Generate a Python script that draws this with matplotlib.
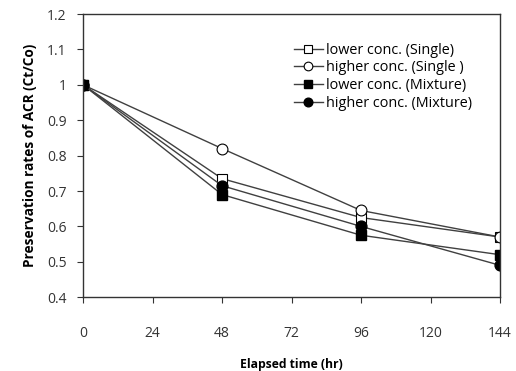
import matplotlib
matplotlib.use("Agg")
import matplotlib.pyplot as plt

plt.rcParams['font.family'] = ['Open Sans', 'DejaVu Sans']

hours = [0, 48, 96, 144]
lowerSingle = [1.0, 0.735, 0.625, 0.57]
higherSingle = [1.0, 0.82, 0.645, 0.57]
lowerMixture = [1.0, 0.69, 0.575, 0.52]
higherMixture = [1.0, 0.715, 0.60, 0.49]

xTicks = [0, 24, 48, 72, 96, 120, 144]
yTicks = [0.4, 0.5, 0.6, 0.7, 0.8, 0.9, 1.0, 1.1, 1.2]
yTickLabels = ["0.4", "0.5", "0.6", "0.7", "0.8", "0.9", "1", "1.1", "1.2"]

fig = plt.figure(figsize=(5.16, 3.71), dpi=100)
ax = fig.add_axes([0.161, 0.199, 0.808, 0.763])

lineColor = "#404040"
ax.plot(hours, lowerSingle, color=lineColor, lw=1, marker="s", ms=7.8,
        mfc="white", mec="black", mew=0.8, label="lower conc. (Single)")
ax.plot(hours, higherSingle, color=lineColor, lw=1, marker="o", ms=7.8,
        mfc="white", mec="black", mew=0.8, label="higher conc. (Single )")
ax.plot(hours, lowerMixture, color=lineColor, lw=1, marker="s", ms=7.8,
        mfc="black", mec="black", label="lower conc. (Mixture)")
ax.plot(hours, higherMixture, color=lineColor, lw=1, marker="o", ms=7.8,
        mfc="black", mec="black", label="higher conc. (Mixture)")

ax.set_xlim(0, 144)
ax.set_ylim(0.4, 1.2)
ax.set_xticks(xTicks)
ax.set_yticks(yTicks)
ax.set_yticklabels(yTickLabels)
ax.tick_params(direction="out", length=4, labelsize=10, colors="#333333",
               labelcolor="#333333")
ax.tick_params(axis="x", pad=17)
ax.tick_params(axis="y", pad=8)
for s in ax.spines.values():
    s.set_color("#333333")
    s.set_linewidth(1)

ax.set_xlabel("Elapsed time (hr)", fontsize=8.7, fontweight="bold", labelpad=12)
ax.set_ylabel("Preservation rates of ACR (Ct/Co)", fontsize=9.8, fontweight="bold", labelpad=7)

ax.legend(loc="upper right", bbox_to_anchor=(0.958, 0.935), frameon=False,
          fontsize=10.4, handlelength=2.0, handletextpad=0.25, labelspacing=0.2,
          markerscale=0.8, borderaxespad=0.3)

fig.savefig("out.png", dpi=100)
